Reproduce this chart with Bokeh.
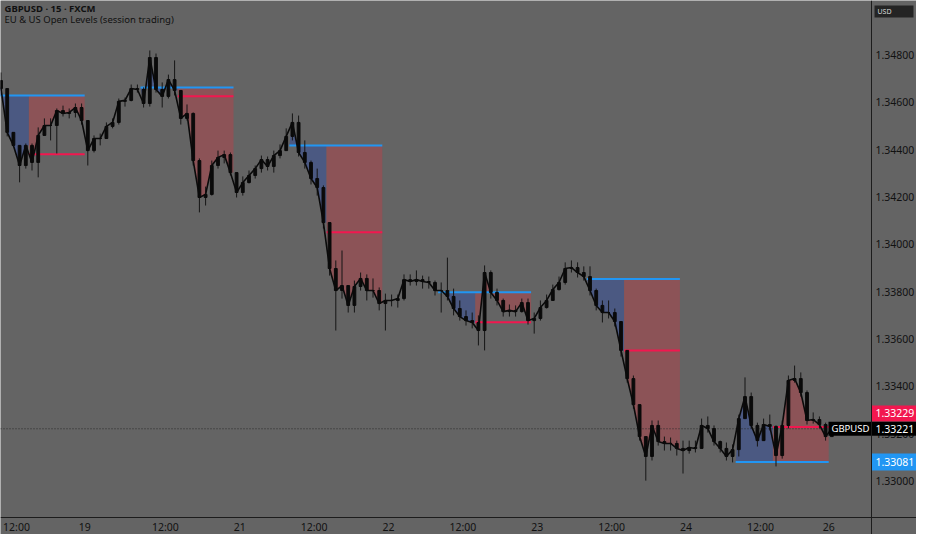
import numpy as np
from bokeh.plotting import figure
from bokeh.models import Range1d, Span, Label
from bokeh.embed import file_html
from bokeh.resources import INLINE

# ---------------- data (hourly candles, GBPUSD, hour 0 = 18th 12:00) ----------------
hour0 = -3
first_open = 1.34692
closes = [
    1.34658, 1.34473, 1.34418,                                                    # -3..-1
    1.34333, 1.34418, 1.34346, 1.34460, 1.34502, 1.34502, 1.34565, 1.34553, 1.34557, 1.34578,  # 0-9
    1.34523, 1.34396, 1.34447, 1.34447, 1.34498, 1.34515, 1.34604, 1.34608, 1.34658, 1.34654,  # 10-19
    1.34595, 1.34789, 1.34654, 1.34625, 1.34696, 1.34650, 1.34532, 1.34553, 1.34354, 1.34198,  # 20-29
    1.34211, 1.34333, 1.34367, 1.34379, 1.34303, 1.34219, 1.34261, 1.34291, 1.34320, 1.34358,  # 30-39
    1.34329, 1.34375, 1.34396, 1.34456, 1.34515, 1.34388, 1.34346, 1.34278, 1.34240, 1.34092,  # 40-49
    1.33898, 1.33805, 1.33826, 1.33742, 1.33822, 1.33856, 1.33805, 1.33805, 1.33750, 1.33763,  # 50-59
    1.33763, 1.33771, 1.33851, 1.33843, 1.33851, 1.33843, 1.33839, 1.33805, 1.33805, 1.33780,  # 60-69
    1.33729, 1.33695, 1.33678, 1.33670, 1.33636, 1.33881, 1.33797, 1.33763, 1.33716, 1.33721,  # 70-79
    1.33716, 1.33754, 1.33678, 1.33687, 1.33733, 1.33763, 1.33809, 1.33839, 1.33898, 1.33902,  # 80-89
    1.33881, 1.33864, 1.33805, 1.33742, 1.33712, 1.33712, 1.33674, 1.33552, 1.33433, 1.33323,  # 90-99
    1.33188, 1.33104, 1.33235, 1.33167, 1.33159, 1.33159, 1.33138, 1.33129, 1.33142, 1.33138,  # 100-109
    1.33235, 1.33222, 1.33167, 1.33138, 1.33104, 1.33133, 1.33264, 1.33357, 1.33235, 1.33171,  # 110-119
    1.33239, 1.33231, 1.33108, 1.33235, 1.33425, 1.33433, 1.33374, 1.33256, 1.33260, 1.33239,  # 120-129
    1.33188, 1.33221,                                                                          # 130-131
]
highs = [
    1.34726, 1.34658, 1.34447,
    1.34418, 1.34426, 1.34426, 1.34494, 1.34532, 1.34532, 1.34574, 1.34586, 1.34574, 1.34595,
    1.34595, 1.34523, 1.34460, 1.34468, 1.34515, 1.34532, 1.34616, 1.34620, 1.34675, 1.34675,
    1.34663, 1.34819, 1.34806, 1.34684, 1.34717, 1.34777, 1.34641, 1.34591, 1.34557, 1.34363,
    1.34244, 1.34354, 1.34396, 1.34396, 1.34388, 1.34303, 1.34287, 1.34312, 1.34333, 1.34375,
    1.34371, 1.34396, 1.34422, 1.34490, 1.34553, 1.34544, 1.34439, 1.34354, 1.34320, 1.34249,
    1.34092, 1.33932, 1.33974, 1.33826, 1.33847, 1.33881, 1.33873, 1.33856, 1.33818, 1.33792,
    1.33788, 1.33788, 1.33873, 1.33873, 1.33890, 1.33868, 1.33864, 1.33847, 1.33839, 1.33944,
    1.33813, 1.33763, 1.33721, 1.33712, 1.33700, 1.33911, 1.33890, 1.33813, 1.33771, 1.33746,
    1.33742, 1.33771, 1.33771, 1.33712, 1.33763, 1.33788, 1.33830, 1.33864, 1.33924, 1.33932,
    1.33924, 1.33907, 1.33907, 1.33813, 1.33763, 1.33763, 1.33729, 1.33670, 1.33543, 1.33446,
    1.33323, 1.33188, 1.33256, 1.33256, 1.33188, 1.33184, 1.33171, 1.33171, 1.33171, 1.33171,
    1.33264, 1.33273, 1.33235, 1.33171, 1.33163, 1.33155, 1.33281, 1.33438, 1.33374, 1.33247,
    1.33264, 1.33281, 1.33235, 1.33256, 1.33446, 1.33488, 1.33459, 1.33383, 1.33290, 1.33273,
    1.33247, 1.33231,
]
lows = [
    1.34650, 1.34456, 1.34414,
    1.34262, 1.34320, 1.34312, 1.34283, 1.34473, 1.34439, 1.34384, 1.34540, 1.34532, 1.34536,
    1.34506, 1.34333, 1.34388, 1.34418, 1.34452, 1.34490, 1.34506, 1.34582, 1.34604, 1.34641,
    1.34578, 1.34582, 1.34641, 1.34578, 1.34616, 1.34629, 1.34506, 1.34523, 1.34333, 1.34135,
    1.34164, 1.34206, 1.34320, 1.34342, 1.34291, 1.34198, 1.34206, 1.34257, 1.34278, 1.34303,
    1.34312, 1.34303, 1.34363, 1.34396, 1.34439, 1.34371, 1.34320, 1.34253, 1.34206, 1.34067,
    1.33868, 1.33636, 1.33771, 1.33712, 1.33712, 1.33805, 1.33763, 1.33775, 1.33721, 1.33636,
    1.33738, 1.33733, 1.33763, 1.33826, 1.33826, 1.33813, 1.33813, 1.33784, 1.33712, 1.33763,
    1.33700, 1.33678, 1.33657, 1.33645, 1.33573, 1.33552, 1.33771, 1.33742, 1.33695, 1.33695,
    1.33695, 1.33712, 1.33661, 1.33623, 1.33678, 1.33729, 1.33771, 1.33805, 1.33830, 1.33881,
    1.33860, 1.33847, 1.33784, 1.33721, 1.33670, 1.33687, 1.33653, 1.33526, 1.33416, 1.33306,
    1.33171, 1.33002, 1.33087, 1.33150, 1.33129, 1.33129, 1.33108, 1.33032, 1.33116, 1.33121,
    1.33138, 1.33205, 1.33150, 1.33121, 1.33087, 1.33079, 1.33104, 1.33340, 1.33222, 1.33146,
    1.33171, 1.33214, 1.33062, 1.33095, 1.33222, 1.33416, 1.33357, 1.33239, 1.33243, 1.33222,
    1.33171, 1.33188,
]

# sessions (hours from 18th 12:00): EU open 08:00, US open 14:00, session end 23:00
eu_open_t = [-4, 20, 44, 68, 92, 116]
us_open_t = [2, 26, 50, 74, 98, 122]
session_end_t = [11, 35, 59, 83, 107, 131]
eu_level = [1.34629, 1.34663, 1.34418, 1.33798, 1.33854, 1.33081]
us_level = [1.34381, 1.34626, 1.34051, 1.33671, 1.33552, 1.33229]

tick_hours = [0, 11, 24, 36, 48, 60, 72, 84, 96, 108, 120, 131]
tick_labels = ["12:00", "19", "12:00", "21", "12:00", "22", "12:00", "23", "12:00", "24", "12:00", "26"]
price_ticks = [1.330, 1.332, 1.334, 1.336, 1.338, 1.340, 1.342, 1.344, 1.346, 1.348]
last_price = 1.33221
symbol = "GBPUSD"
currency = "USD"
title_1 = "GBPUSD · 15 · FXCM"
title_2 = "EU & US Open Levels (session trading)"

# ---------------- styling / layout ----------------
BG = "#646464"
BLUE = "#2196f3"
RED = "#f2174f"
BLUE_FILL = "#4b5982"
RED_FILL = "#8c5357"
INK = "#111111"
CANDLE = "#0a0a0a"
FONT = "Noto Sans"

W, H = 916, 534
PX_PER_HOUR = 6.2
PX_PER_PRICE = 23675.0
X0 = -16 / PX_PER_HOUR          # canvas left edge
X1 = X0 + W / PX_PER_HOUR
Y1 = 1.35030                    # canvas top edge
Y0 = Y1 - H / PX_PER_PRICE
DX = (X1 - X0) / W
DY = (Y1 - Y0) / H


def tx(px):      # canvas x pixel -> data x
    return X0 + px * DX


def py(px):      # canvas y pixel -> data y
    return Y1 - px * DY


AXIS_T = tx(871)
AXIS_P = py(517)
LAB_T = tx(875)
TLAB_P = py(526)

n = len(closes)
hours = np.arange(hour0, hour0 + n)
C = {int(h): c for h, c in zip(hours, closes)}
opens = [first_open] + closes[:-1]
tops = [max(o, c) for o, c in zip(opens, closes)]
bots = [min(o, c) for o, c in zip(opens, closes)]
hi = [max(h, t) for h, t in zip(highs, tops)]
lo = [min(l, b) for l, b in zip(lows, bots)]

p = figure(width=W, height=H, x_range=Range1d(X0, X1), y_range=Range1d(Y0, Y1),
           output_backend="svg", toolbar_location=None,
           x_axis_location=None, y_axis_location=None,
           min_border=0, background_fill_color=BG, border_fill_color=BG, outline_line_color=None)
p.xgrid.visible = False
p.ygrid.visible = False


def band(t0, t1, start_y):
    hs = [h for h in range(t0, t1) if h in C]
    xs = [hs[0]] + [h + 0.5 for h in hs] + [hs[-1] + 1]
    ys = [start_y] + [C[h] for h in hs] + [C[hs[-1]]]
    return xs, ys


for e, u, s, lev in zip(eu_open_t, us_open_t, session_end_t, eu_level):
    start = lev if e in C else opens[0]
    xs, ys = band(e, u, start)
    p.varea(x=xs, y1=[lev] * len(xs), y2=ys, fill_color=BLUE_FILL, fill_alpha=1.0)
    xs, ys = band(u, s, C[u - 1])
    p.varea(x=xs, y1=[lev] * len(xs), y2=ys, fill_color=RED_FILL, fill_alpha=1.0)

p.segment(x0=eu_open_t, y0=eu_level, x1=session_end_t, y1=eu_level, line_color=BLUE, line_width=2)
p.segment(x0=us_open_t, y0=us_level, x1=session_end_t, y1=us_level, line_color=RED, line_width=2)

# last price dotted line
p.segment(x0=[X0], y0=[last_price], x1=[tx(828)], y1=[last_price], line_color="#2a2a2a",
          line_dash="1 2", line_width=1)

# candles
xc = hours + 0.5
p.segment(x0=xc, y0=lo, x1=xc, y1=hi, line_color="#151515", line_width=1)
p.vbar(x=xc, width=0.45, top=tops, bottom=bots, fill_color=CANDLE, line_color=CANDLE, line_width=1)
p.line(x=xc, y=closes, line_color=CANDLE, line_width=1.6)

# axis lines (price scale on the right, time scale at the bottom)
p.add_layout(Span(location=AXIS_T, dimension="height", line_color="#1c1c1c", line_width=1))
p.add_layout(Span(location=AXIS_P, dimension="width", line_color="#1c1c1c", line_width=1))

# time labels
p.text(x=tick_hours, y=[TLAB_P] * len(tick_hours), text=tick_labels,
       text_font={"value": FONT}, text_font_size={"value": "10.5px"}, text_color=INK,
       text_align="center", text_baseline="middle")

# price labels
p.text(x=[LAB_T] * len(price_ticks), y=price_ticks, text=[f"{v:.5f}" for v in price_ticks],
       text_font={"value": FONT}, text_font_size={"value": "10.5px"}, text_color=INK,
       text_align="left", text_baseline="middle")

# price boxes on the scale
red_y = us_level[-1] + 13.5 * DY
p.quad(left=[AXIS_T, AXIS_T, tx(828)], right=[X1, X1, X1],
       bottom=[red_y - 8 * DY, eu_level[-1] - 8.5 * DY, last_price - 7 * DY],
       top=[red_y + 8 * DY, eu_level[-1] + 8.5 * DY, last_price + 7 * DY],
       fill_color=[RED, BLUE, "#000000"], line_color=None)
p.text(x=[LAB_T] * 3, y=[red_y, eu_level[-1], last_price],
       text=[f"{us_level[-1]:.5f}", f"{eu_level[-1]:.5f}", f"{last_price:.5f}"],
       text_font={"value": FONT}, text_font_size={"value": "10.5px"}, text_color="white",
       text_align="left", text_baseline="middle")
p.text(x=[tx(831)], y=[last_price], text=[symbol], text_font={"value": FONT},
       text_font_size={"value": "9.5px"}, text_color="white", text_align="left", text_baseline="middle")

# currency box
p.quad(left=[tx(874)], right=[tx(913)], bottom=[py(17)], top=[py(5)], fill_color="#242424", line_color=None)
p.text(x=[tx(877)], y=[py(11)], text=[currency], text_font={"value": FONT},
       text_font_size={"value": "7px"}, text_color="#d8d8d8", text_align="left", text_baseline="middle")

# titles
p.add_layout(Label(x=X0, y=Y1, x_offset=4, y_offset=-8, text=title_1, text_font=FONT,
                   text_font_size="9.5px", text_font_style="bold", text_color=INK,
                   text_align="left", text_baseline="middle"))
p.add_layout(Label(x=X0, y=Y1, x_offset=4, y_offset=-19, text=title_2, text_font=FONT,
                   text_font_size="9.5px", text_color=INK, text_align="left", text_baseline="middle"))

open("out.html", "w").write(file_html(p, INLINE))
